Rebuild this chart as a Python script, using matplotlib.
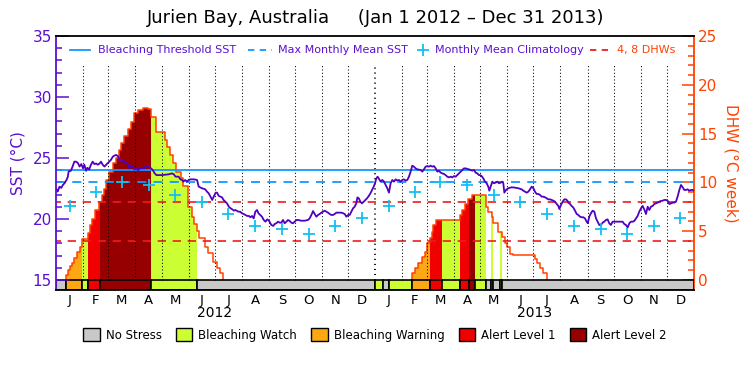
import numpy as np
import pandas as pd
import matplotlib
matplotlib.use('Agg')
import matplotlib.pyplot as plt
from matplotlib.lines import Line2D
from matplotlib.patches import Patch

# ---- data (x = days since Jan 1 2012) ----
sst_day = [0, 2, 4, 6, 8, 10, 12, 13.5, 14.5, 17, 19, 21, 23, 25, 27, 29, 31, 32.5, 34.5, 36,
           38, 40, 42, 44, 46, 48, 50, 51.5, 53.5, 55.5, 57.5, 59, 61, 63, 65, 67, 69, 71, 72.5, 74.5,
           76.5, 78.5, 80, 82, 84, 86, 88, 90, 92, 94, 96, 98, 99.5, 101, 103, 105, 107, 109, 111, 113,
           115, 121.5, 129, 133, 135, 137, 140.5, 142.5, 144.4, 146, 148, 150, 152, 154, 158, 161.6,
           163.5, 167.3, 171, 173, 175, 177, 179, 181, 183, 184.5, 186.4, 188.3, 190.2, 192, 194, 196,
           198, 200, 202, 204, 205.5, 207, 209, 211, 213, 215, 217, 219, 221, 222.7, 224.6, 226.5,
           228.4, 230.3, 232, 234, 236, 238, 240, 242, 244, 246.7, 249, 250.5, 252.5, 254.4, 256.3,
           258.2, 260.1, 262, 264, 265.8, 267.7, 269.6, 271.5, 273.5, 275.4, 277.3, 281, 285, 288.7,
           290.6, 292.6, 294.5, 296.4, 298.3, 300.2, 302.1, 304, 306, 307.8, 309.7, 311.7, 313.6,
           315.5, 317.4, 319.3, 321.2, 323.1, 327, 329, 330.8, 332.7, 334.6, 336.5, 338.4, 340.3,
           342.2, 344.1, 345.3, 347, 348.7, 350.6, 352.5, 354.4, 356.3, 358.3, 360.2, 362.1, 364,
           365.5, 367, 368.5, 370, 372, 373.9, 375.8, 377.7, 379.6, 381.5, 383.4, 385.3, 387.2, 389.1,
           391, 392.9, 394.9, 396.8, 398.7, 400.6, 402.5, 404.4, 406.3, 408.2, 410.1, 412, 414, 417.8,
           419.7, 421.6, 423.5, 425.4, 427.3, 429.2, 431.2, 433.1, 435, 436.9, 438.8, 440.7, 442.6,
           444.5, 446.4, 448.3, 450.3, 452.2, 454.1, 456, 457.9, 459.8, 461.7, 463.6, 465.5, 467.4,
           469.4, 471.3, 473.2, 475.1, 477, 478.9, 480.8, 482.7, 484.6, 485.8, 487.7, 489.6, 491.5,
           493.4, 495.3, 496.5, 498, 499.9, 501.8, 503.7, 505.7, 507.6, 509.5, 511.4, 512.5, 513.7,
           515.6, 518.3, 522.1, 525.9, 529.7, 533.5, 535.5, 537.4, 539.3, 541.2, 543.1, 545, 547,
           548.8, 550.7, 552.7, 554.6, 556.5, 558.4, 560.3, 562.2, 564.1, 566, 568, 569.8, 571.7,
           573.7, 575.6, 576.7, 578.6, 580.5, 582.4, 584.3, 585.9, 587, 588.9, 590.8, 592.8, 594.7,
           596.6, 598.5, 600.4, 602.3, 604.2, 606.1, 608, 609.3, 611, 612.9, 614.8, 616.8, 618.7,
           620.6, 622.5, 624.4, 626.3, 628.2, 630.1, 632, 633.9, 635.8, 637.8, 641.6, 649.2, 651.1,
           653, 655, 656.9, 658.8, 660.7, 662.6, 664.5, 666.4, 668.3, 670.2, 672.1, 674, 676, 677.9,
           679.8, 681.7, 683.6, 685.5, 687.4, 689.3, 691.2, 693.1, 695.1, 697, 698.9, 700.8, 702.7,
           704.6, 706.5, 708.4, 710.3, 712.2, 714.2, 716.1, 718, 719.9, 721.8, 723.7, 725.6, 727.5,
           729.4, 731]
sst_val = [22.5, 22.25, 22.65, 22.55, 22.8, 22.95, 23.2, 23.45, 23.9, 23.95, 24.3, 24.7, 24.7, 24.6,
           24.3, 24.5, 24.15, 24.45, 23.95, 24.2, 24.05, 24.45, 24.7, 24.5, 24.55, 24.45, 24.55, 24.7,
           24.45, 24.3, 24.45, 24.55, 24.7, 24.85, 25.1, 25.2, 25.25, 25.15, 24.85, 24.7, 24.8, 24.7,
           24.6, 24.55, 24.15, 24.35, 24.3, 24.05, 24.15, 24.0, 24.15, 24.15, 24.2, 24.15, 24.35, 24.3,
           24.25, 24.15, 24.0, 23.75, 23.6, 23.6, 23.66, 23.74, 23.66, 23.47, 23.47, 23.25, 23.2,
           23.06, 23.2, 23.06, 23.2, 23.25, 23.25, 23.2, 22.65, 22.52, 22.43, 22.24, 22.1, 21.83,
           21.56, 21.88, 22.16, 22.16, 21.9, 21.83, 21.78, 21.56, 21.42, 21.28, 21.01, 20.88, 20.79,
           20.68, 20.74, 20.68, 20.6, 20.6, 20.47, 20.41, 20.33, 20.25, 20.25, 20.14, 20.25, 20.05,
           20.6, 20.74, 20.47, 20.33, 20.19, 19.92, 19.78, 19.97, 19.86, 19.51, 19.43, 19.59, 19.65,
           19.78, 19.7, 19.7, 19.92, 19.65, 19.78, 19.92, 19.84, 19.7, 19.65, 19.78, 19.92, 19.92,
           19.86, 19.86, 19.92, 20.05, 20.33, 20.65, 20.41, 20.19, 20.33, 20.41, 20.52, 20.6, 20.68,
           20.6, 20.52, 20.41, 20.33, 20.33, 20.41, 20.52, 20.52, 20.52, 20.47, 20.41, 20.19, 20.33,
           20.33, 20.6, 20.87, 21.01, 21.28, 21.77, 21.69, 21.42, 21.28, 21.42, 21.56, 21.69, 21.88,
           22.1, 22.38, 22.65, 22.93, 23.33, 23.47, 23.3, 23.06, 23.2, 23.06, 22.79, 22.52, 22.16,
           22.93, 23.2, 23.06, 23.25, 23.15, 23.2, 23.06, 23.2, 23.25, 23.15, 23.2, 23.47, 23.88,
           24.37, 24.29, 24.15, 24.07, 24.02, 23.88, 24.07, 24.29, 24.34, 24.29, 24.37, 24.29, 24.34,
           24.15, 23.88, 23.96, 23.8, 23.74, 23.69, 23.6, 23.47, 23.41, 23.47, 23.41, 23.52, 23.47,
           23.6, 23.74, 23.88, 24.02, 24.15, 24.15, 24.1, 24.07, 24.02, 23.96, 24.02, 23.8, 23.74,
           23.6, 23.6, 23.52, 23.33, 23.06, 22.93, 22.65, 22.32, 22.65, 23.06, 22.93, 22.98, 23.06,
           22.93, 22.98, 23.06, 22.93, 22.16, 22.38, 22.52, 22.6, 22.57, 22.52, 22.43, 22.32, 22.24,
           22.16, 22.24, 22.43, 22.65, 22.52, 22.24, 22.05, 22.05, 21.97, 21.83, 21.83, 21.78, 21.69,
           21.61, 21.61, 21.56, 21.5, 21.42, 21.23, 21.07, 20.82, 21.15, 21.42, 21.61, 21.61, 21.5,
           21.34, 21.23, 21.07, 20.93, 20.68, 20.41, 20.33, 20.19, 20.14, 20.14, 20.05, 19.78, 19.65,
           20.19, 20.47, 20.68, 20.6, 20.05, 19.78, 19.51, 19.51, 19.7, 19.78, 19.92, 19.97, 19.65,
           19.51, 19.78, 19.78, 19.78, 19.59, 19.51, 19.3, 19.65, 19.78, 19.78, 19.84, 20.05, 20.25,
           20.6, 20.87, 21.07, 20.79, 20.41, 21.01, 20.74, 21.01, 21.07, 21.23, 21.28, 21.34, 21.42,
           21.48, 21.5, 21.56, 21.56, 21.5, 21.23, 21.28, 21.34, 21.34, 21.42, 21.83, 22.38, 22.79,
           22.6, 22.38, 22.38, 22.43, 22.32, 22.38, 22.38, 22.32]

clim_val = [21.1, 22.2, 23.05, 22.75, 22.0, 21.4, 20.45, 19.45, 19.2, 18.75, 19.4, 20.05]
mmm = 23.0
bleach_thresh = 24.0
dhw_marks = [4, 8]

# degree heating weeks, step values (post)
dhw12_day = [11.5, 14, 16, 18.3, 21, 24.4, 27, 30.2, 36.5, 38.4, 41.3, 45.1, 49.7, 52.7, 55.4, 57.5,
             61, 65, 68.8, 72, 74.6, 78, 82.2, 86, 89.9, 93.7, 99.4, 105, 108.8, 114.6, 124.9, 127.5,
             131, 134, 138, 143, 146, 151.6, 155.5, 158, 161, 164, 170.7, 174.5, 180.3, 184.1, 187.9,
             191]
dhw12_val = [0.5, 1.0, 1.4, 1.78, 2.3, 2.9, 3.4, 4.17, 4.78, 5.6, 6.3, 7.17, 8.02, 8.7, 9.3, 10.25,
             11.1, 11.95, 12.47, 13.3, 14.0, 14.8, 15.5, 16.2, 17.08, 17.4, 17.6, 17.5, 16.7, 15.2,
             14.34, 13.66, 12.8, 11.95, 11.1, 10.4, 9.6, 7.5, 6.5, 5.7, 5.0, 4.27, 3.42, 2.73, 1.88,
             1.2, 0.68, 0]
dhw13_day = [407.4, 411.2, 415, 418.9, 422.7, 424.6, 428.4, 430.3, 432.3, 434.9, 462.8, 465.5, 468.5,
             472.3, 476.2, 492.6, 495.3, 499.1, 501, 506.8, 510.6, 514.4, 516.3, 520.1, 523.2, 548.7,
             551.4, 554.4, 558.2, 562]
dhw13_val = [0.68, 1.2, 1.7, 2.4, 2.9, 3.76, 4.27, 4.95, 5.6, 6.1, 6.66, 7.17, 7.8, 8.26, 8.7, 7.5,
             7.0, 6.5, 5.87, 4.95, 4.44, 3.76, 3.4, 2.7, 2.6, 2.2, 1.7, 1.2, 0.68, 0]

# stress level periods: start day and level (0 none .. 4 alert 2)
stress_start = [0, 11.5, 30.2, 37, 50.4, 108.8, 162, 366, 375, 381, 407.4, 428.4, 442.5, 462.5,
                473, 480.6, 492.4, 498.5, 501, 508.5, 511.5]
stress_level = [0, 2, 1, 3, 4, 1, 0, 1, 0, 1, 2, 3, 1, 3, 4, 1, 0, 1, 0, 1, 0]

stress_names = ['No Stress', 'Bleaching Watch', 'Bleaching Warning', 'Alert Level 1', 'Alert Level 2']
stress_colors = ['#c8c8c8', '#ccff33', '#fba814', '#f00000', '#960000']

purple = '#5a10d0'
sst_color = '#5000c0'
orange = '#ff4200'
red = '#ee1c1c'
blue = '#1496ff'
cyan = '#12c0f0'

n_days = 731
y_lo = 14.18
dhw_lo = -1.025

month_start = pd.date_range('2012-01-01', '2014-01-01', freq='MS')
month_day = np.array((month_start - month_start[0]).days, dtype=float)
month_mid = (month_day[:-1] + month_day[1:]) / 2
month_lab = ['J', 'F', 'M', 'A', 'M', 'J', 'J', 'A', 'S', 'O', 'N', 'D'] * 2

fig = plt.figure(figsize=(7.5, 3.75), dpi=100)
ax = fig.add_axes([56/750, 85/375, 638/750, 254/375])
ax2 = ax.twinx()
ax.set_zorder(2)
ax2.set_zorder(1)
ax.patch.set_visible(False)

# ---- DHW (right axis) ----
all_day = np.array([0.0] + dhw12_day + dhw13_day)
all_val = np.array([0.0] + dhw12_val + dhw13_val)

def dhw_at(t):
    idx = np.searchsorted(all_day, t, side='right') - 1
    return all_val[idx]

stress_end = stress_start[1:] + [n_days]
for s, e, lev in zip(stress_start, stress_end, stress_level):
    if lev == 0:
        continue
    xs = np.r_[s, all_day[(all_day > s) & (all_day < e)], e]
    ys = dhw_at(xs)
    ax2.fill_between(xs, 0, ys, step='post', color=stress_colors[lev], lw=0)

for dd, vv in [(dhw12_day, dhw12_val), (dhw13_day, dhw13_val)]:
    ax2.step([dd[0]] + dd, [0] + vv, where='post', color=orange, lw=1.1)

for lvl in dhw_marks:
    ax2.axhline(lvl, color=red, lw=1.2, ls=(2, (5, 4)))

ax2.set_ylim(dhw_lo, 25)
ax2.set_yticks(range(0, 26, 5))
ax2.set_yticks(range(0, 26), minor=True)
ax2.tick_params(axis='y', which='both', direction='in', colors=orange, labelsize=11, pad=3)
ax2.tick_params(axis='y', which='major', length=9, width=1.1)
ax2.tick_params(axis='y', which='minor', length=4.5, width=1.1)
ax2.spines['right'].set_color(orange)
ax2.spines['right'].set_linewidth(1.3)
for sp in ['left', 'top', 'bottom']:
    ax2.spines[sp].set_visible(False)
ax2.set_ylabel('DHW (\u00b0C week)', color=orange, fontsize=11, rotation=270, labelpad=15)

# ---- SST (left axis) ----
bar_w = np.array(stress_end) - np.array(stress_start)
ax.bar(stress_start, 15 - y_lo, width=bar_w, bottom=y_lo, align='edge',
       color=[stress_colors[l] for l in stress_level], edgecolor='black', lw=1.2)

inner = month_day[1:-1]
ax.vlines([d for d in inner if d != 366], 15, 32.7, colors='black', lw=0.75, linestyles=(0, (1, 2.2)))
ax.vlines([366], 15, 32.7, colors='black', lw=1.45, linestyles=(0, (0.5, 2.0)))

ax.axhline(bleach_thresh, color=blue, lw=1.3)
ax.axhline(mmm, color=blue, lw=1.3, ls=(0, (5, 4)))
ax.plot(sst_day, sst_val, color=sst_color, lw=1.3)
ax.plot(month_mid, clim_val * 2, ls='none', marker='+', ms=9, mew=1.3, color=cyan)

ax.set_xlim(0, n_days)
ax.set_ylim(y_lo, 35)
ax.set_yticks(range(15, 36, 5))
ax.set_yticks(range(15, 36), minor=True)
ax.tick_params(axis='y', which='both', direction='in', colors=purple, labelsize=11, pad=3)
ax.tick_params(axis='y', which='major', length=9, width=1.1)
ax.tick_params(axis='y', which='minor', length=4.5, width=1.1)
ax.spines['left'].set_color(purple)
ax.spines['left'].set_linewidth(1.3)
ax.spines['right'].set_visible(False)
ax.spines['top'].set_linewidth(1.3)
ax.spines['bottom'].set_linewidth(1.3)
ax.set_xticks(month_mid)
ax.set_xticklabels(month_lab, fontsize=9.5)
ax.tick_params(axis='x', length=0, pad=3)
ax.set_ylabel('SST (\u00b0C)', color=purple, fontsize=11, labelpad=5)

fig.text(215/750, 1 - 313/375, '2012', ha='center', va='center', fontsize=10)
fig.text(535/750, 1 - 313/375, '2013', ha='center', va='center', fontsize=10)

fig.text(376/750, 1 - 18/375, 'Jurien Bay, Australia     (Jan 1 2012 \u2013 Dec 31 2013)',
         ha='center', va='center', fontsize=13)

# top legend row, placed in figure pixels
def px(x, y):
    return x / 750, 1 - y / 375

ly = 50
key_lines = [((70, 90), blue, '-'), ((248, 272), blue, (0, (3.5, 3))), ((590, 612), red, (0, (3.5, 3)))]
for (x0, x1), c, st in key_lines:
    (a, yy), (b, _) = px(x0, ly), px(x1, ly)
    fig.add_artist(Line2D([a, b], [yy, yy], color=c, lw=1.3, ls=st, transform=fig.transFigure))
mx, my = px(423, ly)
fig.add_artist(Line2D([mx], [my], color=cyan, ls='none', marker='+', ms=9, mew=1.3,
                      transform=fig.transFigure))
key_text = [(98, 'Bleaching Threshold SST', purple), (278, 'Max Monthly Mean SST', purple),
            (435, 'Monthly Mean Climatology', purple), (617, '4, 8 DHWs', orange)]
for x0, txt, c in key_text:
    tx, ty = px(x0, ly)
    fig.text(tx, ty, txt, color=c, fontsize=8, ha='left', va='center')

# bottom legend
bot_handles = [Patch(facecolor=c, edgecolor='black', lw=1) for c in stress_colors]
fig.legend(bot_handles, stress_names, loc='center', bbox_to_anchor=(0.5, 1 - 335/375), ncol=5,
           frameon=False, fontsize=8.5, handlelength=1.4, handleheight=1.2, handletextpad=0.5,
           columnspacing=1.2)

fig.savefig('out.png', dpi=100)
